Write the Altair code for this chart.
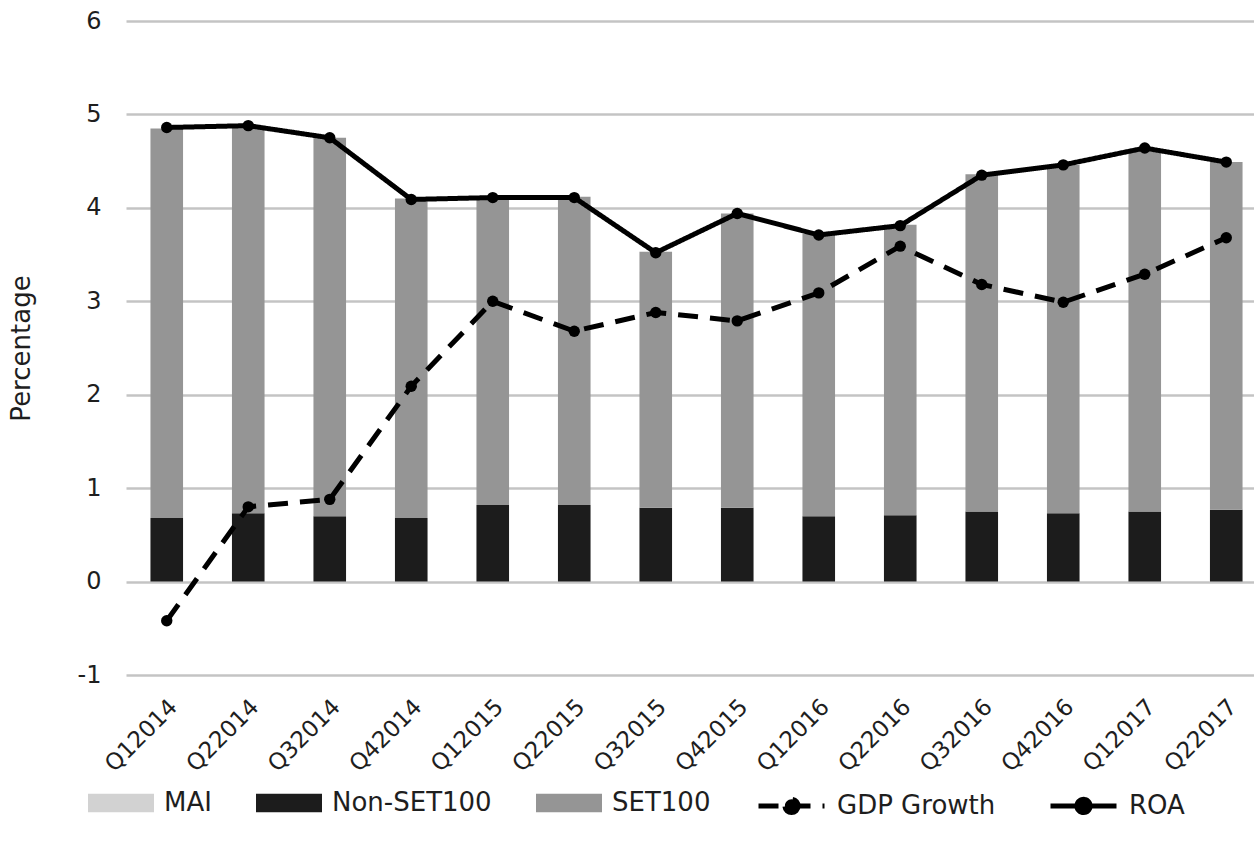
import altair as alt
import pandas as pd

# Quarterly figures (percent)
quarters = ["Q12014", "Q22014", "Q32014", "Q42014",
            "Q12015", "Q22015", "Q32015", "Q42015",
            "Q12016", "Q22016", "Q32016", "Q42016",
            "Q12017", "Q22017"]
non_set100 = [0.68, 0.73, 0.70, 0.68, 0.82, 0.82, 0.79, 0.79,
              0.70, 0.71, 0.75, 0.73, 0.75, 0.77]
set100 = [4.17, 4.14, 4.05, 3.42, 3.30, 3.30, 2.74, 3.15,
          3.02, 3.11, 3.61, 3.73, 3.88, 3.72]
gdp_growth = [-0.42, 0.80, 0.88, 2.09, 3.00, 2.68, 2.88, 2.79,
              3.09, 3.59, 3.18, 2.99, 3.29, 3.68]
roa = [4.86, 4.88, 4.75, 4.09, 4.11, 4.11, 3.52, 3.94,
       3.71, 3.81, 4.35, 4.46, 4.64, 4.49]

bar_series = ["MAI", "Non-SET100", "SET100"]
bar_colors = ["#d2d2d2", "#1c1c1c", "#959595"]
line_series = ["GDP Growth", "ROA"]

FONT = "DejaVu Sans"
TEXT = "#1e1e1e"

bar_rows = []
for q, lo, hi in zip(quarters, non_set100, set100):
    bar_rows.append({"quarter": q, "series": "Non-SET100", "value": lo, "stack_pos": 1})
    bar_rows.append({"quarter": q, "series": "SET100", "value": hi, "stack_pos": 2})
bars_df = pd.DataFrame(bar_rows)

line_rows = []
for q, g, r in zip(quarters, gdp_growth, roa):
    line_rows.append({"quarter": q, "series": "GDP Growth", "value": g})
    line_rows.append({"quarter": q, "series": "ROA", "value": r})
lines_df = pd.DataFrame(line_rows)

x_enc = alt.X(
    "quarter:N",
    sort=quarters,
    scale=alt.Scale(domain=quarters, range=[0, 1141], paddingInner=0.6, paddingOuter=0.3),
    axis=alt.Axis(
        title=None, domain=False, ticks=False, grid=False,
        labelAngle=-45, labelAlign="right", labelBaseline="middle",
        labelPadding=28, labelOffset=7, labelFontSize=23,
        labelFont=FONT, labelColor=TEXT,
    ),
)
y_scale = alt.Scale(domain=[-1, 6], nice=False, zero=False)
y_axis = alt.Axis(
    values=[-1, 0, 1, 2, 3, 4, 5, 6], labelExpr="'' + datum.value",
    domain=False, ticks=False, tickSize=0, grid=True,
    gridColor="#c4c4c4", gridWidth=2.5,
    labelFontSize=24, labelPadding=25, labelFont=FONT, labelColor=TEXT,
    title="Percentage", titleFontSize=26, titleFontWeight="normal",
    titleFont=FONT, titleColor=TEXT, titleX=-92, titleBaseline="bottom",
)

legend_common = dict(
    title=None, orient="none", direction="horizontal",
    labelFontSize=26, labelFont=FONT, labelColor=TEXT,
    labelOffset=10, columnPadding=44,
)

bars = alt.Chart(bars_df).mark_bar().encode(
    x=x_enc,
    y=alt.Y("value:Q", stack="zero", scale=y_scale, axis=y_axis),
    color=alt.Color(
        "series:N",
        scale=alt.Scale(domain=bar_series, range=bar_colors),
        legend=alt.Legend(
            legendX=-38, legendY=749,
            symbolType="M-1,-0.28H1V0.28H-1Z", symbolSize=4356,
            symbolStrokeWidth=0, symbolOpacity=1,
            **legend_common,
        ),
    ),
    order=alt.Order("stack_pos:Q"),
)

lines = alt.Chart(lines_df).mark_line(color="black", strokeWidth=5, strokeJoin="round").encode(
    x=x_enc,
    y=alt.Y("value:Q", scale=y_scale),
    strokeDash=alt.StrokeDash(
        "series:N",
        scale=alt.Scale(domain=line_series, range=[[20, 12], [1, 0]]),
        legend=alt.Legend(
            legendX=630, legendY=749,
            symbolType="M-1,0H1M0.2,0A0.2,0.2,0,1,1,-0.2,0A0.2,0.2,0,1,1,0.2,0Z",
            symbolSize=4356, symbolStrokeWidth=5,
            symbolStrokeColor="black", symbolFillColor="black",
            **legend_common,
        ),
    ),
    detail="series:N",
)

points = alt.Chart(lines_df).mark_point(
    filled=True, shape="circle", size=130, color="black", opacity=1
).encode(
    x=x_enc,
    y=alt.Y("value:Q", scale=y_scale),
)

chart = (
    alt.layer(bars, lines, points)
    .properties(
        width=1128, height=654,
        autosize=alt.AutoSizeParams(type="none"),
        padding={"left": 126, "top": 21, "right": 0, "bottom": 167},
        background="white",
    )
    .configure_view(stroke=None)
)

chart.save("out.html", embed_options={"renderer": "svg", "actions": False})
